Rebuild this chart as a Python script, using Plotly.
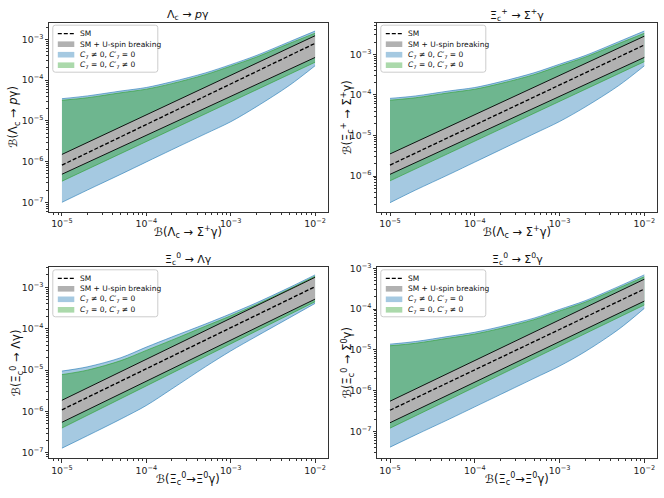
import plotly.graph_objects as go

W, H = 664, 498
FONT = 'DejaVu Sans'
POST_SCRIPT = "document.body.style.margin = '0'; document.body.style.overflow = 'hidden';"

# x positions (branching ratio of the reference channel)
X_PTS = [1e-5, 2e-5, 5e-5, 1e-4, 2e-4, 5e-4, 1e-3, 2e-3, 5e-3, 1e-2]
X_ENDS = [1e-5, 1e-2]

# panel 1: Lambda_c -> p gamma
P1_BLUE_UP = [3.5e-5, 4.1e-5, 5.4e-5, 6.6e-5, 9.1e-5, 1.5e-4, 2.4e-4, 4.0e-4, 8.8e-4, 1.6e-3]
P1_GREEN_UP = [3.2e-5, 3.7e-5, 4.9e-5, 6.0e-5, 8.2e-5, 1.36e-4, 2.2e-4, 3.65e-4, 8.0e-4, 1.42e-3]
P1_BLUE_LO = [1.0e-7, 2.0e-7, 4.9e-7, 9.8e-7, 1.95e-6, 4.8e-6, 9.5e-6, 2.2e-5, 7.5e-5, 2.25e-4]
P1_GREEN_LO = [3.3e-7, 2.75e-4]
P1_GRAY_UP = [1.5e-6, 1.23e-3]
P1_GRAY_LO = [4.9e-7, 3.6e-4]
P1_SM = [8.2e-7, 8.0e-4]

# panel 2: Xi_c^+ -> Sigma^+ gamma
P2_BLUE_UP = [8.2e-5, 9.4e-5, 1.25e-4, 1.52e-4, 2.1e-4, 3.5e-4, 5.7e-4, 9.3e-4, 2.05e-3, 3.75e-3]
P2_GREEN_UP = [7.4e-5, 8.5e-5, 1.13e-4, 1.38e-4, 1.9e-4, 3.15e-4, 5.2e-4, 8.5e-4, 1.85e-3, 3.3e-3]
P2_BLUE_LO = [2.2e-7, 4.5e-7, 1.1e-6, 2.2e-6, 4.4e-6, 1.1e-5, 2.2e-5, 5.0e-5, 1.7e-4, 5.2e-4]
P2_GREEN_LO = [7.6e-7, 6.6e-4]
P2_GRAY_UP = [3.5e-6, 2.8e-3]
P2_GRAY_LO = [1.1e-6, 8.4e-4]
P2_SM = [1.86e-6, 1.7e-3]

# panel 3: Xi_c^0 -> Lambda gamma
P3_BLUE_UP = [9.5e-6, 1.2e-5, 2.0e-5, 3.6e-5, 6.3e-5, 1.3e-4, 2.3e-4, 4.2e-4, 1.0e-3, 2.0e-3]
P3_GREEN_UP = [7.8e-6, 1.0e-5, 1.7e-5, 3.0e-5, 5.3e-5, 1.15e-4, 2.05e-4, 3.8e-4, 9.2e-4, 1.85e-3]
P3_BLUE_LO = [1.3e-7, 2.6e-7, 6.6e-7, 1.4e-6, 3.5e-6, 1.2e-5, 2.9e-5, 6.5e-5, 1.85e-4, 4.1e-4]
P3_GREEN_LO = [4.0e-7, 4.5e-4]
P3_GRAY_UP = [1.87e-6, 1.75e-3]
P3_GRAY_LO = [5.5e-7, 5.2e-4]
P3_SM = [1.1e-6, 1.04e-3]

# panel 4: Xi_c^0 -> Sigma^0 gamma
P4_BLUE_UP = [1.38e-5, 1.6e-5, 2.15e-5, 2.7e-5, 3.7e-5, 6.0e-5, 9.8e-5, 1.6e-4, 3.6e-4, 6.9e-4]
P4_GREEN_UP = [1.26e-5, 1.45e-5, 1.95e-5, 2.45e-5, 3.35e-5, 5.5e-5, 9.0e-5, 1.47e-4, 3.3e-4, 6.2e-4]
P4_BLUE_LO = [4.1e-8, 8.2e-8, 2.0e-7, 4.0e-7, 8.0e-7, 2.0e-6, 4.0e-6, 9.0e-6, 3.2e-5, 1.04e-4]
P4_GREEN_LO = [1.2e-7, 1.26e-4]
P4_GRAY_UP = [5.5e-7, 5.4e-4]
P4_GRAY_LO = [1.63e-7, 1.57e-4]
P4_SM = [3.3e-7, 3.1e-4]

TITLES = [
    'Λ<sub>c</sub> → <i>p</i>γ',
    'Ξ<sub>c</sub><sup>+</sup> → Σ<sup>+</sup>γ',
    'Ξ<sub>c</sub><sup>0</sup> → Λγ',
    'Ξ<sub>c</sub><sup>0</sup> → Σ<sup>0</sup>γ',
]
X_TITLES = [
    'ℬ(Λ<sub>c</sub> → Σ<sup>+</sup>γ)',
    'ℬ(Λ<sub>c</sub> → Σ<sup>+</sup>γ)',
    'ℬ(Ξ<sub>c</sub><sup>0</sup>→Ξ<sup>0</sup>γ)',
    'ℬ(Ξ<sub>c</sub><sup>0</sup>→Ξ<sup>0</sup>γ)',
]
Y_TITLES = [
    'ℬ(Λ<sub>c</sub> → <i>p</i>γ)',
    'ℬ(Ξ<sub>c</sub><sup>+</sup> → Σ<sup>+</sup>γ)',
    'ℬ(Ξ<sub>c</sub><sup>0</sup> → Λγ)',
    'ℬ(Ξ<sub>c</sub><sup>0</sup> → Σ<sup>0</sup>γ)',
]
LEGEND_NAMES = [
    'SM',
    'SM + U-spin breaking',
    '<i>C</i><sub>7</sub> ≠ 0, <i>C</i>′<sub>7</sub> = 0',
    '<i>C</i><sub>7</sub> = 0, <i>C</i>′<sub>7</sub> ≠ 0',
]

# layout of the 2x2 grid, in pixels of the 664x498 canvas
X_DOMAINS_PX = [(49.3, 327.7), (377.3, 657.0), (49.3, 327.7), (377.3, 657.0)]
Y_DOMAINS_PX = [(22.7, 211.7), (22.7, 211.7), (267.3, 458.3), (267.3, 458.3)]
Y_TITLE_OFFSETS = [36, 30, 33, 30]
Y_RANGES = [(-7.23, -2.59), (-6.88, -2.22), (-7.13, -2.515), (-7.66, -2.975)]
X_RANGE = (-5.15, -1.85)

BLUE_FILL = 'rgba(31,119,180,0.4)'
BLUE_EDGE = 'rgba(31,119,180,0.75)'
GREEN_FILL = 'rgba(44,160,44,0.45)'
GREEN_EDGE = 'rgba(44,160,44,0.75)'
GRAY_FILL = '#b1b1b1'
LEGEND_PATCHES = [None, GRAY_FILL, 'rgba(31,119,180,0.4)', 'rgba(44,160,44,0.4)']

panels = [
    (P1_BLUE_UP, P1_BLUE_LO, P1_GREEN_UP, P1_GREEN_LO, P1_GRAY_UP, P1_GRAY_LO, P1_SM),
    (P2_BLUE_UP, P2_BLUE_LO, P2_GREEN_UP, P2_GREEN_LO, P2_GRAY_UP, P2_GRAY_LO, P2_SM),
    (P3_BLUE_UP, P3_BLUE_LO, P3_GREEN_UP, P3_GREEN_LO, P3_GRAY_UP, P3_GRAY_LO, P3_SM),
    (P4_BLUE_UP, P4_BLUE_LO, P4_GREEN_UP, P4_GREEN_LO, P4_GRAY_UP, P4_GRAY_LO, P4_SM),
]


def px(x, y):
    # canvas pixels -> paper coordinates
    return x / W, 1 - y / H


def rounded_box(x0, y0, x1, y1, r=2.5):
    pts = [
        ('M', x0 + r, y0), ('L', x1 - r, y0), ('Q', x1, y0, x1, y0 + r), ('L', x1, y1 - r),
        ('Q', x1, y1, x1 - r, y1), ('L', x0 + r, y1), ('Q', x0, y1, x0, y1 - r), ('L', x0, y0 + r),
        ('Q', x0, y0, x0 + r, y0),
    ]
    parts = []
    for p in pts:
        coords = []
        for j in range(1, len(p), 2):
            u, v = px(p[j], p[j + 1])
            coords.append(f'{u:.5f},{v:.5f}')
        parts.append(p[0] + ' '.join(coords))
    return ' '.join(parts) + ' Z'


fig = go.Figure()
annotations = []
shapes = []
text_font = {'family': FONT, 'color': '#111'}

for i, (blue_up, blue_lo, green_up, green_lo, gray_up, gray_lo, sm) in enumerate(panels):
    n = i + 1
    sfx = '' if n == 1 else str(n)
    xa, ya = 'x' + sfx, 'y' + sfx
    common = {'xaxis': xa, 'yaxis': ya, 'hoverinfo': 'skip', 'showlegend': False, 'mode': 'lines'}
    curved = {'shape': 'spline', 'smoothing': 0.9}

    # each band: lower edge first, then upper edge filled down to it
    fig.add_trace(go.Scatter(x=X_PTS, y=blue_lo, line=dict(curved, color=BLUE_EDGE, width=0.8), **common))
    fig.add_trace(go.Scatter(
        x=X_PTS, y=blue_up, fill='tonexty', fillcolor=BLUE_FILL,
        line=dict(curved, color=BLUE_EDGE, width=0.8), name=LEGEND_NAMES[2], **common,
    ))
    fig.add_trace(go.Scatter(x=X_ENDS, y=green_lo, line={'color': GREEN_EDGE, 'width': 0.8}, **common))
    fig.add_trace(go.Scatter(
        x=X_PTS, y=green_up, fill='tonexty', fillcolor=GREEN_FILL,
        line=dict(curved, color=GREEN_EDGE, width=0.8), name=LEGEND_NAMES[3], **common,
    ))
    fig.add_trace(go.Scatter(x=X_ENDS, y=gray_lo, line={'color': 'black', 'width': 0.9}, **common))
    fig.add_trace(go.Scatter(
        x=X_ENDS, y=gray_up, fill='tonexty', fillcolor=GRAY_FILL,
        line={'color': 'black', 'width': 0.9}, name=LEGEND_NAMES[1], **common,
    ))
    fig.add_trace(go.Scatter(
        x=X_ENDS, y=sm, line={'color': 'black', 'width': 1.3, 'dash': '4px,2px'}, name=LEGEND_NAMES[0], **common,
    ))

    x0, x1 = X_DOMAINS_PX[i]
    y0, y1 = Y_DOMAINS_PX[i]
    axis_style = {
        'type': 'log', 'showgrid': False, 'zeroline': False, 'automargin': False,
        'showline': True, 'mirror': True, 'linecolor': '#333333', 'linewidth': 1,
        'ticks': 'outside', 'ticklen': 3.5, 'tickwidth': 0.8, 'tickcolor': '#333',
        'minor': {'ticks': 'outside', 'ticklen': 2, 'tickwidth': 0.6, 'tickcolor': '#333', 'dtick': 'D1'},
        'dtick': 1, 'exponentformat': 'power',
        'tickfont': {'size': 7.5, 'color': '#222', 'family': FONT},
    }
    fig.update_layout({
        'xaxis' + sfx: dict(axis_style, domain=[x0 / W, x1 / W], anchor=ya, range=list(X_RANGE)),
        'yaxis' + sfx: dict(axis_style, domain=[1 - y1 / H, 1 - y0 / H], anchor=xa, range=list(Y_RANGES[i])),
    })

    cx = (x0 + x1) / 2
    cy = (y0 + y1) / 2
    for text, (ax_, ay_), angle, size in (
        (TITLES[i], (cx, y0 - 8), 0, 11),
        (X_TITLES[i], (cx, y1 + 20.5), 0, 11.5),
        (Y_TITLES[i], (x0 - Y_TITLE_OFFSETS[i], cy), -90, 11.5),
    ):
        u, v = px(ax_, ay_)
        annotations.append({
            'text': text, 'xref': 'paper', 'yref': 'paper', 'x': u, 'y': v, 'textangle': angle,
            'xanchor': 'center', 'yanchor': 'middle', 'showarrow': False,
            'font': dict(text_font, size=size),
        })

    # legend drawn by hand (matplotlib-style compact box)
    bx0, by0 = x0 + 3.5, y0 + 2.5
    bx1, by1 = bx0 + 105, by0 + 47
    shapes.append({
        'type': 'path', 'path': rounded_box(bx0, by0, bx1, by1), 'xref': 'paper', 'yref': 'paper',
        'fillcolor': 'rgba(255,255,255,0.8)', 'line': {'color': '#cccccc', 'width': 1}, 'layer': 'above',
    })
    for k, name in enumerate(LEGEND_NAMES):
        ry = by0 + 8.5 + k * 10.5
        if LEGEND_PATCHES[k] is None:
            u0, v0 = px(bx0 + 5, ry)
            u1, _ = px(bx0 + 21.5, ry)
            shapes.append({
                'type': 'line', 'xref': 'paper', 'yref': 'paper', 'x0': u0, 'x1': u1, 'y0': v0, 'y1': v0,
                'line': {'color': 'black', 'width': 1.3, 'dash': '4px,2px'}, 'layer': 'above',
            })
        else:
            u0, v0 = px(bx0 + 5, ry - 2.8)
            u1, v1 = px(bx0 + 21.5, ry + 2.8)
            shapes.append({
                'type': 'rect', 'xref': 'paper', 'yref': 'paper', 'x0': u0, 'x1': u1, 'y0': v1, 'y1': v0,
                'fillcolor': LEGEND_PATCHES[k], 'line': {'width': 0}, 'layer': 'above',
            })
        u, v = px(bx0 + 25, ry)
        annotations.append({
            'text': name, 'xref': 'paper', 'yref': 'paper', 'x': u, 'y': v,
            'xanchor': 'left', 'yanchor': 'middle', 'showarrow': False,
            'font': dict(text_font, size=7.5),
        })

fig.update_layout(
    template='none',
    width=W, height=H, autosize=False,
    margin={'l': 0, 'r': 0, 't': 0, 'b': 0},
    paper_bgcolor='white', plot_bgcolor='white',
    font={'family': FONT},
    showlegend=False,
    annotations=annotations,
    shapes=shapes,
)

fig.write_html('out.html', config={'displayModeBar': False}, post_script=[POST_SCRIPT])
